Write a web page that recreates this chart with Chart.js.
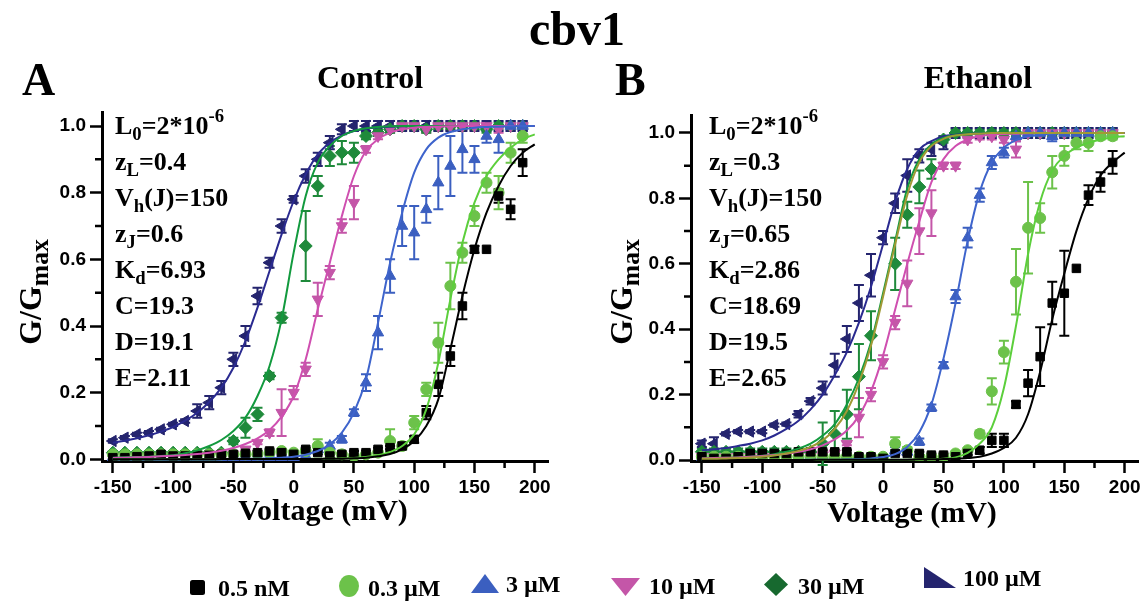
<!DOCTYPE html>
<html lang="en">
<head>
<meta charset="UTF-8">
<title>cbv1</title>
<script src="https://cdn.jsdelivr.net/npm/chart.js"></script>
<style>
  body { margin: 0; background: #fff; }
  #page { position: relative; width: 1148px; height: 602px; overflow: hidden;
          font-family: 'Liberation Serif', 'Times New Roman', serif; font-weight: bold; color: #000; }
  #page canvas { position: absolute; top: 0; }
  .txt { position: absolute; white-space: nowrap; line-height: 1; z-index: 2; }
  .txt sub { font-size: 0.72em; vertical-align: -0.3em; line-height: 0; }
  .txt sup { font-size: 0.72em; vertical-align: 0.62em; line-height: 0; }
  .ctr { transform: translateX(-50%); }
  .yt { font-size: 32px; transform: translate(-50%, -50%) rotate(-90deg); }
  .yt sub { font-size: 0.8em; vertical-align: -0.28em; }
  .ann { font-size: 26px; }
  .leg { font-size: 24px; }
  #legendMarks { position: absolute; left: 0; top: 0; z-index: 1; }
</style>
</head>
<body>
<div id="page">
  <canvas id="chartA" width="580" height="510" style="left:0"></canvas>
  <canvas id="chartB" width="558" height="510" style="left:590px"></canvas>

  <div class="txt ctr" style="left:577px;top:5px;font-size:48px">cbv1</div>
  <div class="txt" style="left:22px;top:57px;font-size:46px">A</div>
  <div class="txt ctr" style="left:370px;top:61px;font-size:32px">Control</div>
  <div class="txt" style="left:615px;top:57px;font-size:46px">B</div>
  <div class="txt ctr" style="left:978px;top:61px;font-size:32px">Ethanol</div>
  <div class="txt ctr" style="left:323px;top:495px;font-size:30px">Voltage (mV)</div>
  <div class="txt ctr" style="left:912px;top:497px;font-size:30px">Voltage (mV)</div>
  <div class="txt yt" style="left:30px;top:292px">G/G<sub>max</sub></div>
  <div class="txt yt" style="left:621px;top:292px">G/G<sub>max</sub></div>

  <svg id="legendMarks" width="1148" height="602">
    <rect x="190" y="580" width="15" height="15" rx="2.5" fill="#000"/>
    <ellipse cx="349" cy="586" rx="10" ry="11" fill="#6cc24a"/>
    <polygon points="471,593 485,574 499,593" fill="#3b5fc0"/>
    <polygon points="611,578 640,578 625.5,596" fill="#c456a8"/>
    <polygon points="776,573 788,584.5 776,596 764,584.5" fill="#17692f"/>
    <polygon points="924,567 924,588 956,588" fill="#24246e"/>
  </svg>
</div>

<script>
// voltage of the measured points and of the fitted curves (mV)
const voltage = [-150,-140,-130,-120,-110,-100,-90,-80,-70,-60,-50,-40,-30,-20,-10,0,
                 10,20,30,40,50,60,70,80,90,100,110,120,130,140,150,160,170,180,190];
const fitVoltage = [-150,-140,-130,-120,-110,-100,-90,-80,-70,-60,-50,-40,-30,-20,-10,0,
                    10,20,30,40,50,60,70,80,90,100,110,120,130,140,150,160,170,180,190,200];

const seriesNames = ['0.5 nM', '0.3 µM', '3 µM', '10 µM', '30 µM', '100 µM'];

// ---- Control (A) measured G/Gmax and errors ----
const ctrl05nM = [0.005,0.005,0.008,0.010,0.015,0.010,0.010,0.012,0.012,0.015,0.015,0.018,0.020,0.025,0.020,0.015,
                  0.030,0.020,0.010,0.015,0.020,0.020,0.030,0.035,0.040,0.060,0.140,0.225,0.310,0.460,0.630,0.630,0.790,0.750,0.890];
const ctrl05nMErr = [0.005,0.005,0.005,0.005,0.005,0.005,0.005,0.005,0.005,0.005,0.005,0.005,0.005,0.005,0.005,0.005,
                     0.005,0.005,0.005,0.005,0.005,0.005,0.005,0.005,0.010,0.010,0.020,0.035,0.030,0.040,0.010,0,0.020,0.030,0.040];
const ctrl03uM = [0.015,0.015,0.015,0.015,0.015,0.015,0.015,0.015,0.015,0.015,0.015,0.015,0.015,0.020,0.025,0.020,
                  0.025,0.040,0.020,0.015,0.010,0.015,0.020,0.055,0.040,0.110,0.210,0.350,0.520,0.620,0.730,0.830,0.800,0.920,0.970];
const ctrl03uMErr = [0.005,0.005,0.005,0.005,0.005,0.005,0.005,0.005,0.005,0.005,0.005,0.005,0.005,0.005,0.005,0.005,
                     0.005,0.020,0.005,0.005,0.005,0.005,0.005,0.035,0.010,0.020,0.020,0.060,0.070,0.030,0.030,0.030,0.050,0.030,0.020];
const ctrl3uM = [0.005,0.005,0.005,0.005,0.005,0.005,0.005,0.005,0.005,0.005,0.005,0.005,0.005,0.005,0.005,0.005,
                 0.010,0.030,0.040,0.060,0.140,0.230,0.380,0.550,0.700,0.680,0.750,0.830,0.880,0.930,0.900,0.970,0.960,1.000,1.000];
const ctrl3uMErr = [0.005,0.005,0.005,0.005,0.005,0.005,0.005,0.005,0.005,0.005,0.005,0.005,0.005,0.005,0.005,0.005,
                    0.005,0.010,0.010,0.010,0.010,0.025,0.050,0.050,0.060,0.080,0.040,0.080,0.090,0.070,0.040,0.020,0.040,0.015,0.015];
const ctrl10uM = [0.008,0.008,0.008,0.008,0.008,0.008,0.008,0.008,0.008,0.008,0.015,0.030,0.050,0.080,0.140,0.200,
                  0.270,0.480,0.560,0.700,0.770,0.930,0.970,0.990,1.000,1.000,0.990,1.000,1.000,1.000,1.000,1.000,0.990,1.000,1.000];
const ctrl10uMErr = [0.005,0.005,0.005,0.005,0.005,0.005,0.005,0.005,0.005,0.005,0.005,0.005,0.005,0.010,0.070,0.020,
                     0.020,0.050,0.020,0.020,0.050,0.010,0.010,0.010,0.010,0.010,0.010,0.010,0.010,0.010,0.010,0.010,0.010,0.010,0.010];
const ctrl30uM = [0.020,0.020,0.020,0.020,0.020,0.020,0.020,0.020,0.020,0.020,0.055,0.095,0.135,0.250,0.425,null,
                  0.640,0.820,0.910,0.920,0.920,0.970,0.980,0.990,1.000,1.000,0.990,1.000,1.000,1.000,1.000,0.990,1.000,1.000,1.000];
const ctrl30uMErr = [0.005,0.005,0.005,0.005,0.005,0.005,0.005,0.005,0.005,0.005,0.010,0.030,0.020,0.010,0.015,0,
                     0.105,0.030,0.030,0.035,0.030,0.010,0.010,0.010,0.010,0.010,0.010,0.010,0.010,0.010,0.010,0.010,0.010,0.010,0.010];
const ctrl100uM = [0.055,0.065,0.075,0.080,0.090,0.105,0.115,0.145,0.170,0.215,0.300,0.370,0.490,0.590,0.700,0.780,
                   0.850,0.900,0.950,0.990,1.000,1.000,1.000,1.000,1.000,1.000,1.000,1.000,1.000,1.000,1.000,1.000,1.000,1.000,1.000];
const ctrl100uMErr = [0.005,0.005,0.005,0.005,0.005,0.005,0.005,0.020,0.020,0.020,0.020,0.030,0.025,0.015,0.020,0.010,
                      0.020,0.020,0.020,0.015,0.015,0.015,0.015,0.015,0.015,0.015,0.015,0.015,0.015,0.015,0.015,0.015,0.015,0.015,0.015];

// ---- Control (A) fitted curves ----
const ctrlFit05nM = [0,0,0,0,0,0,0,0,0,0.001,0.001,0.001,0.001,0.001,0.001,0.001,0.001,0.001,0.002,0.002,
                     0.003,0.005,0.009,0.016,0.030,0.055,0.100,0.180,0.330,0.490,0.630,0.740,0.820,0.880,0.920,0.945];
const ctrlFit03uM = [0,0,0,0,0,0,0,0,0,0.001,0.001,0.001,0.001,0.001,0.001,0.001,0.001,0.002,0.002,0.003,
                     0.004,0.007,0.012,0.022,0.040,0.075,0.150,0.290,0.480,0.650,0.770,0.850,0.900,0.935,0.960,0.975];
const ctrlFit3uM = [0,0,0,0,0,0,0,0,0.001,0.001,0.001,0.002,0.002,0.003,0.005,0.008,0.014,0.025,0.045,0.080,
                    0.140,0.240,0.410,0.590,0.740,0.860,0.930,0.965,0.982,0.990,0.995,0.997,0.998,0.999,1,1];
const ctrlFit10uM = [0.004,0.005,0.006,0.007,0.009,0.011,0.013,0.016,0.020,0.026,0.034,0.046,0.063,0.088,0.128,0.190,
                     0.300,0.450,0.590,0.730,0.850,0.925,0.960,0.980,0.990,0.995,0.997,0.998,0.999,1,1,1,1,1,1,1];
const ctrlFit30uM = [0.005,0.006,0.007,0.008,0.010,0.012,0.018,0.027,0.040,0.058,0.085,0.125,0.190,0.280,0.420,0.620,
                     0.790,0.890,0.940,0.970,0.985,0.993,0.997,0.999,1,1,1,1,1,1,1,1,1,1,1,1];
const ctrlFit100uM = [0.050,0.056,0.063,0.072,0.083,0.097,0.116,0.140,0.172,0.215,0.275,0.355,0.455,0.565,0.675,0.775,
                      0.855,0.915,0.950,0.972,0.985,0.992,0.996,0.998,0.999,1,1,1,1,1,1,1,1,1,1,1];

// ---- Ethanol (B) measured G/Gmax and errors ----
const eth05nM = [0.010,0.005,0.005,0.010,0.020,0.020,0.020,0.020,0.025,0.025,0.025,0.025,0.025,0.010,0.010,0.005,
                 0.020,0.020,0.020,0.015,0.015,0.010,0.020,0.030,0.060,0.060,0.170,0.235,0.316,0.480,0.510,0.586,0.810,0.850,0.910];
const eth05nMErr = [0.005,0.005,0.005,0.005,0.005,0.005,0.005,0.005,0.005,0.005,0.005,0.005,0.005,0.005,0.005,0.005,
                    0.005,0.005,0.005,0.005,0.005,0.005,0.005,0.010,0.020,0.020,0.010,0.040,0.090,0.065,0.130,0,0.030,0.030,0.035];
const eth03uM = [0.010,0.010,0.010,0.010,0.010,0.010,0.010,0.010,0.010,0.010,0.010,0.010,0.010,0.010,0.010,0.010,
                 0.050,0.030,0.010,0.010,0.010,0.020,0.030,0.080,0.210,0.330,0.545,0.710,0.740,0.880,0.930,0.970,0.970,0.990,0.990];
const eth03uMErr = [0.005,0.005,0.005,0.005,0.005,0.005,0.005,0.005,0.005,0.005,0.005,0.005,0.005,0.005,0.005,0.005,
                    0.020,0.010,0.005,0.005,0.005,0.005,0.005,0.010,0.040,0.035,0.100,0.140,0.045,0.050,0.030,0.020,0.025,0.010,0.010];
const eth3uM = [0.005,0.005,0.005,0.005,0.005,0.005,0.005,0.005,0.005,0.005,0.005,0.005,0.005,0.005,0.005,0.005,
                0.030,0.025,0.056,0.160,0.290,0.500,0.680,0.810,0.910,0.940,0.990,1.000,1.000,0.990,1.000,1.000,1.000,1.000,1.000];
const eth3uMErr = [0.005,0.005,0.005,0.005,0.005,0.005,0.005,0.005,0.005,0.005,0.005,0.005,0.005,0.005,0.005,0.005,
                   0.010,0.010,0.010,0.010,0.010,0.020,0.030,0.020,0.020,0.015,0.015,0.015,0.015,0.015,0.015,0.015,0.015,0.015,0.015];
const eth10uM = [0.010,0.010,0.010,0.010,0.010,0.010,0.010,0.010,0.010,0.010,0.015,0.020,0.050,0.130,0.200,0.300,
                 0.420,0.540,0.700,0.755,0.900,0.900,0.980,0.990,0.990,0.980,0.950,1.000,1.000,1.000,1.000,1.000,1.000,1.000,1.000];
const eth10uMErr = [0.005,0.005,0.005,0.005,0.005,0.005,0.005,0.005,0.005,0.005,0.005,0.005,0.005,0.060,0.020,0.020,
                    0.020,0.070,0.070,0.070,0.010,0.010,0.010,0.010,0.010,0.010,0.025,0.010,0.010,0.010,0.010,0.010,0.010,0.010,0.010];
const eth30uM = [0.025,0.025,0.025,0.025,0.025,0.025,0.025,0.025,0.025,0.025,0.050,0.080,0.140,0.255,0.380,null,
                 0.600,0.750,0.835,0.890,0.980,1.000,1.000,1.000,1.000,1.000,1.000,1.000,1.000,1.000,1.000,1.000,1.000,1.000,1.000];
const eth30uMErr = [0.010,0.010,0.010,0.010,0.010,0.010,0.010,0.010,0.010,0.010,0.065,0.070,0.075,0.100,0.075,0,
                    0.080,0.040,0.050,0.030,0.010,0.010,0.010,0.010,0.010,0.010,0.010,0.010,0.010,0.010,0.010,0.010,0.010,0.010,0.010];
const eth100uM = [0.050,0.050,0.080,0.087,0.087,0.087,0.107,0.110,0.140,0.180,0.220,0.290,0.370,0.480,0.565,0.680,
                  0.785,0.870,0.930,0.950,0.970,1.000,1.000,1.000,1.000,1.000,1.000,1.000,1.000,1.000,1.000,1.000,1.000,1.000,1.000];
const eth100uMErr = [0.010,0.020,0.005,0.005,0.005,0.005,0.005,0.005,0.010,0.010,0.020,0.035,0.040,0.055,0.065,0.020,
                     0.030,0.050,0.020,0.020,0.020,0.015,0.015,0.015,0.015,0.015,0.015,0.015,0.015,0.015,0.015,0.015,0.015,0.015,0.015];

// ---- Ethanol (B) fitted curves ----
const ethFit05nM = [0,0,0,0,0,0,0,0,0,0,0.001,0.001,0.001,0.001,0.001,0.001,0.001,0.001,0.002,0.002,
                    0.003,0.004,0.006,0.010,0.020,0.037,0.068,0.140,0.270,0.430,0.570,0.700,0.800,0.870,0.910,0.940];
const ethFit03uM = [0,0,0,0,0,0,0,0,0,0,0,0.001,0.001,0.001,0.001,0.001,0.001,0.001,0.002,0.003,
                    0.004,0.008,0.022,0.050,0.100,0.220,0.410,0.630,0.790,0.885,0.930,0.955,0.970,0.980,0.987,0.990];
const ethFit3uM = [0,0,0,0,0,0,0,0,0,0.001,0.001,0.001,0.002,0.003,0.005,0.009,0.018,0.040,0.085,0.170,
                   0.310,0.480,0.670,0.820,0.910,0.955,0.978,0.990,0.995,0.998,0.999,1,1,1,1,1];
const ethFit10uM = [0.005,0.006,0.007,0.008,0.010,0.012,0.015,0.019,0.025,0.033,0.045,0.063,0.090,0.135,0.210,0.320,
                    0.460,0.600,0.730,0.850,0.920,0.960,0.980,0.990,0.995,0.997,0.998,0.999,1,1,1,1,1,1,1,1];
const ethFit30uM = [0.005,0.006,0.007,0.008,0.010,0.013,0.018,0.025,0.035,0.050,0.075,0.110,0.170,0.250,0.360,0.510,
                    0.670,0.830,0.920,0.965,0.985,0.993,0.997,0.999,1,1,1,1,1,1,1,1,1,1,1,1];
const ethFitOlive = [0.004,0.004,0.005,0.006,0.008,0.010,0.014,0.020,0.028,0.040,0.060,0.095,0.150,0.235,0.350,0.500,
                     0.660,0.810,0.910,0.960,0.982,0.992,0.996,0.998,1,1,1,1,1,1,1,1,1,1,1,1];
const ethFit100uM = [0.030,0.033,0.037,0.043,0.050,0.060,0.075,0.095,0.120,0.155,0.200,0.260,0.330,0.420,0.530,0.660,
                     0.790,0.890,0.950,0.975,0.990,0.995,0.998,0.999,1,1,1,1,1,1,1,1,1,1,1,1];

// fit parameters printed in each panel
const annotA = ['L<sub>0</sub>=2*10<sup>-6</sup>', 'z<sub>L</sub>=0.4', 'V<sub>h</sub>(J)=150', 'z<sub>J</sub>=0.6',
                'K<sub>d</sub>=6.93', 'C=19.3', 'D=19.1', 'E=2.11'];
const annotB = ['L<sub>0</sub>=2*10<sup>-6</sup>', 'z<sub>L</sub>=0.3', 'V<sub>h</sub>(J)=150', 'z<sub>J</sub>=0.65',
                'K<sub>d</sub>=2.86', 'C=18.69', 'D=19.5', 'E=2.65'];

// styles
const markerColors = ['#000000', '#6cc24a', '#3b5fc0', '#c456a8', '#1f8a3b', '#24246e'];
const lineColors = ['#000000', '#5ccf3c', '#3e64cc', '#cf4fb0', '#129a3e', '#2a2a90'];
const pointStyles = ['rect', 'circle', 'triangle', 'triangle', 'rectRot', 'triangle'];
const pointRotations = [0, 0, 0, 180, 0, -90];
const pointRadii = [6, 5.5, 6.5, 6.5, 6.5, 6.5];

function pairs(xs, ys) {
    return xs.map((x, i) => ({ x: x, y: ys[i] }));
}

function fitDataset(values, color) {
    return {
        data: pairs(fitVoltage, values),
        showLine: true,
        pointRadius: 0,
        borderColor: color,
        borderWidth: 2,
        cubicInterpolationMode: 'monotone',
        fill: false
    };
}

function buildDatasets(marks, errs, fits, extraFits) {
    const ds = [];
    // fits first so they are drawn on top of markers
    extraFits.forEach(f => ds.push(fitDataset(f.values, f.color)));
    fits.forEach((f, k) => ds.push(fitDataset(f, lineColors[k])));
    marks.forEach((m, k) => {
        ds.push({
            data: pairs(voltage, m),
            errors: errs[k],
            showLine: false,
            pointStyle: pointStyles[k],
            rotation: pointRotations[k],
            pointRadius: pointRadii[k],
            backgroundColor: markerColors[k],
            borderColor: markerColors[k],
            borderWidth: 1
        });
    });
    return ds;
}

// vertical error bars with caps, placed through the chart's y scale
const errorBars = {
    id: 'errorBars',
    beforeDatasetsDraw(chart) {
        const ctx = chart.ctx;
        const ys = chart.scales.y;
        chart.data.datasets.forEach((ds, di) => {
            if (!ds.errors) return;
            const meta = chart.getDatasetMeta(di);
            ctx.save();
            ctx.strokeStyle = ds.borderColor;
            ctx.lineWidth = 2;
            meta.data.forEach((pt, i) => {
                const v = ds.data[i].y;
                const e = ds.errors[i];
                if (v === null || !e) return;
                const top = ys.getPixelForValue(v + e);
                const bot = ys.getPixelForValue(v - e);
                ctx.beginPath();
                ctx.moveTo(pt.x, top); ctx.lineTo(pt.x, bot);
                ctx.moveTo(pt.x - 5, top); ctx.lineTo(pt.x + 5, top);
                ctx.moveTo(pt.x - 5, bot); ctx.lineTo(pt.x + 5, bot);
                ctx.stroke();
            });
            ctx.restore();
        });
    }
};

// short minor ticks between the labelled ones
const minorTicks = {
    id: 'minorTicks',
    afterDraw(chart) {
        const ctx = chart.ctx;
        const xs = chart.scales.x, ys = chart.scales.y;
        const area = chart.chartArea;
        ctx.save();
        ctx.strokeStyle = '#000';
        ctx.lineWidth = 2.5;
        ctx.beginPath();
        [-125, -75, -25, 25, 75, 125, 175].forEach(v => {
            const px = xs.getPixelForValue(v);
            ctx.moveTo(px, area.bottom);
            ctx.lineTo(px, area.bottom + 7);
        });
        [0.1, 0.3, 0.5, 0.7, 0.9].forEach(v => {
            const py = ys.getPixelForValue(v);
            ctx.moveTo(area.left, py);
            ctx.lineTo(area.left - 7, py);
        });
        ctx.stroke();
        ctx.restore();
    }
};

function makeChart(id, datasets, opt) {
    const tickFont = { family: 'Liberation Sans', size: 19, weight: 'bold' };
    return new Chart(document.getElementById(id), {
        type: 'scatter',
        data: { datasets: datasets },
        options: {
            responsive: false,
            animation: false,
            events: [],
            layout: { padding: { left: 0, top: opt.top, right: opt.right, bottom: 0 } },
            plugins: { legend: { display: false }, tooltip: { enabled: false } },
            scales: {
                x: {
                    type: 'linear', min: -159, max: 211,
                    border: { display: true, color: '#000', width: 3 },
                    grid: { display: true, drawOnChartArea: false, tickLength: 12, tickWidth: 2.5, tickColor: '#000' },
                    ticks: { stepSize: 50, includeBounds: false, color: '#000', padding: 3,
                             maxRotation: 0, autoSkip: false, font: tickFont },
                    afterFit: s => { s.height = 49; }
                },
                y: {
                    type: 'linear', min: opt.yMin, max: opt.yMax,
                    border: { display: true, color: '#000', width: 3 },
                    grid: { display: true, drawOnChartArea: false, tickLength: 12, tickWidth: 2.5, tickColor: '#000' },
                    ticks: { stepSize: 0.2, includeBounds: false, color: '#000', padding: 4, font: tickFont,
                             callback: v => v.toFixed(1) },
                    afterFit: s => { s.width = opt.yWidth; }
                }
            }
        },
        plugins: [errorBars, minorTicks]
    });
}

makeChart('chartA',
    buildDatasets([ctrl05nM, ctrl03uM, ctrl3uM, ctrl10uM, ctrl30uM, ctrl100uM],
                  [ctrl05nMErr, ctrl03uMErr, ctrl3uMErr, ctrl10uMErr, ctrl30uMErr, ctrl100uMErr],
                  [ctrlFit05nM, ctrlFit03uM, ctrlFit3uM, ctrlFit10uM, ctrlFit30uM, ctrlFit100uM], []),
    { top: 112, right: 32, yWidth: 102, yMin: -0.005, yMax: 1.042 });

makeChart('chartB',
    buildDatasets([eth05nM, eth03uM, eth3uM, eth10uM, eth30uM, eth100uM],
                  [eth05nMErr, eth03uMErr, eth3uMErr, eth10uMErr, eth30uMErr, eth100uMErr],
                  [ethFit05nM, ethFit03uM, ethFit3uM, ethFit10uM, ethFit30uM, ethFit100uM],
                  [{ values: ethFitOlive, color: '#a09a35' }]),
    { top: 115, right: 10, yWidth: 101, yMin: -0.003, yMax: 1.055 });

// parameter text and legend labels
const page = document.getElementById('page');
function addText(html, cls, left, top) {
    const d = document.createElement('div');
    d.className = 'txt ' + cls;
    d.style.left = left + 'px';
    d.style.top = top + 'px';
    d.innerHTML = html;
    page.appendChild(d);
}
annotA.forEach((t, i) => addText(t, 'ann', 115, 113 + i * 36));
annotB.forEach((t, i) => addText(t, 'ann', 709, 113 + i * 36));

const legendLeft = [218, 368, 506, 649, 798, 963];
const legendTop = [576, 576, 572, 574, 574, 566];
seriesNames.forEach((name, i) => addText(name, 'leg', legendLeft[i], legendTop[i]));
</script>
</body>
</html>
